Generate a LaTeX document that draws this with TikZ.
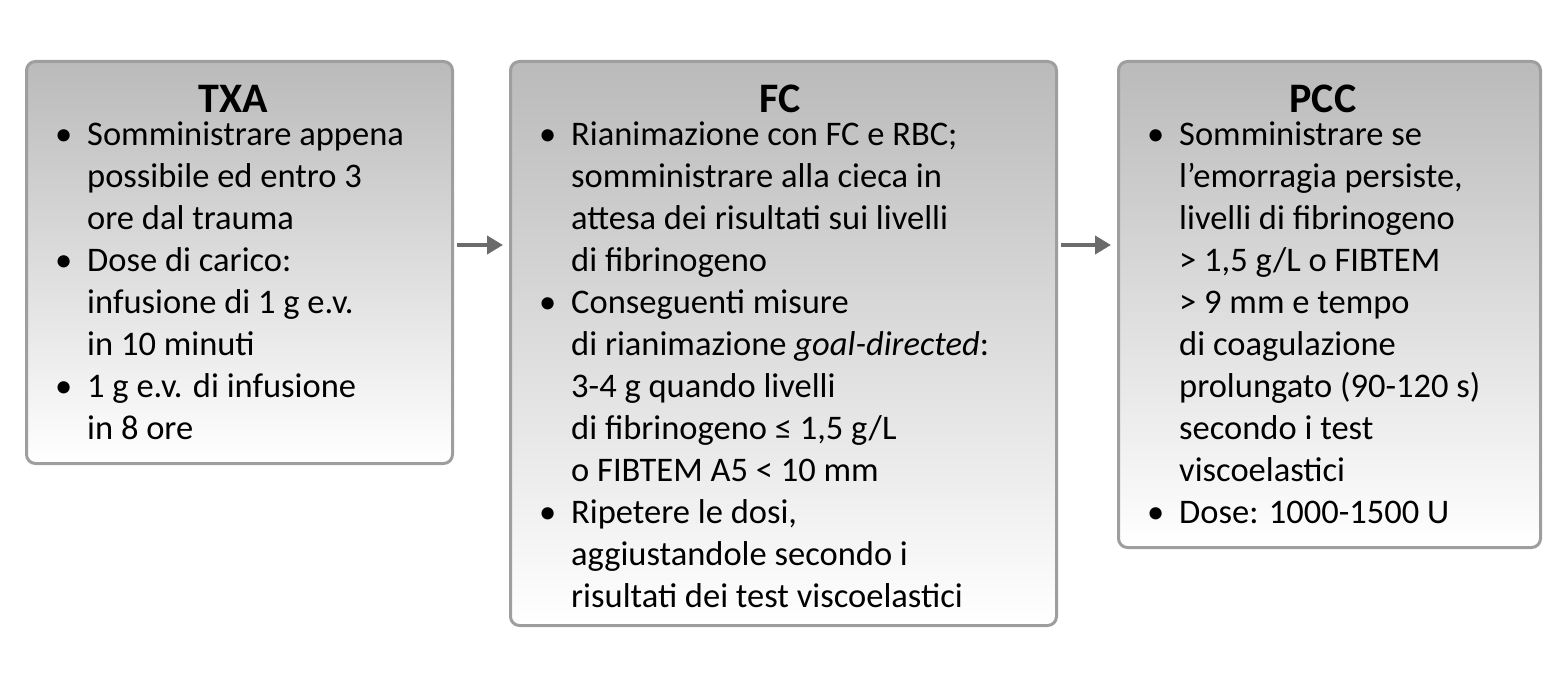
\documentclass[tikz,border=0pt]{standalone}
\usepackage{fontspec}
\setmainfont{Carlito}
\usetikzlibrary{arrows.meta}
\newcommand{\bit}{\hspace{2pt}\textbullet}
\newenvironment{blist}{\begin{tabular}{@{}p{34pt}@{}l@{}}}{\end{tabular}}
\tikzset{
  box/.style={draw=black!38, line width=3pt, rounded corners=9pt, top color=black!27, bottom color=white},
  ttl/.style={font=\fontsize{42}{48}\selectfont\bfseries, anchor=base},
  body/.style={anchor=north west, inner sep=0pt, font=\fontsize{34.5}{42}\selectfont},
  arr/.style={draw=black!58, line width=4pt, -{Triangle[length=16pt,width=18pt]}}
}
\begin{document}
\begin{tikzpicture}[x=1pt,y=-1pt]
\useasboundingbox (0,0) rectangle (1565,684);
\node[box, minimum width=426pt, minimum height=402pt, anchor=north west] (b1) at (25,60) {};
\node[box, minimum width=546pt, minimum height=564pt, anchor=north west] (b2) at (509,60) {};
\node[box, minimum width=422pt, minimum height=486pt, anchor=north west] (b3) at (1117,60) {};
\node[ttl] (t1) at (233,113) {TXA};
\node[ttl] (t2) at (780,113) {FC};
\node[ttl] (t3) at (1323,113) {PCC};
\node[body] (c1) at (53,116) {\begin{blist}
\bit & Somministrare appena\\ & possibile ed entro 3\\ & ore dal trauma\\
\bit & Dose di carico:\\ & infusione di 1 g e.v.\\ & in 10 minuti\\
\bit & 1 g e.v. di infusione\\ & in 8 ore
\end{blist}};
\node[body] (c2) at (537,116) {\begin{blist}
\bit & Rianimazione con FC e RBC;\\ & somministrare alla cieca in\\ & attesa dei risultati sui livelli\\ & di fibrinogeno\\
\bit & Conseguenti misure\\ & di rianimazione \textit{goal-directed}:\\ & 3-4 g quando livelli\\ & di fibrinogeno ≤ 1,5 g/L\\ & o FIBTEM A5 < 10 mm\\
\bit & Ripetere le dosi,\\ & aggiustandole secondo i\\ & risultati dei test viscoelastici
\end{blist}};
\node[body] (c3) at (1145,116) {\begin{blist}
\bit & Somministrare se\\ & l’emorragia persiste,\\ & livelli di fibrinogeno\\ & > 1,5 g/L o FIBTEM\\ & > 9 mm e tempo\\ & di coagulazione\\ & prolungato (90-120 s)\\ & secondo i test\\ & viscoelastici\\
\bit & Dose: 1000-1500 U
\end{blist}};
\draw[arr] (b1.east |- 0,245) ++(3,0) -- ([xshift=-6pt]b2.west |- 0,245);
\draw[arr] (b2.east |- 0,245) ++(3,0) -- ([xshift=-6pt]b3.west |- 0,245);
\end{tikzpicture}
\end{document}
